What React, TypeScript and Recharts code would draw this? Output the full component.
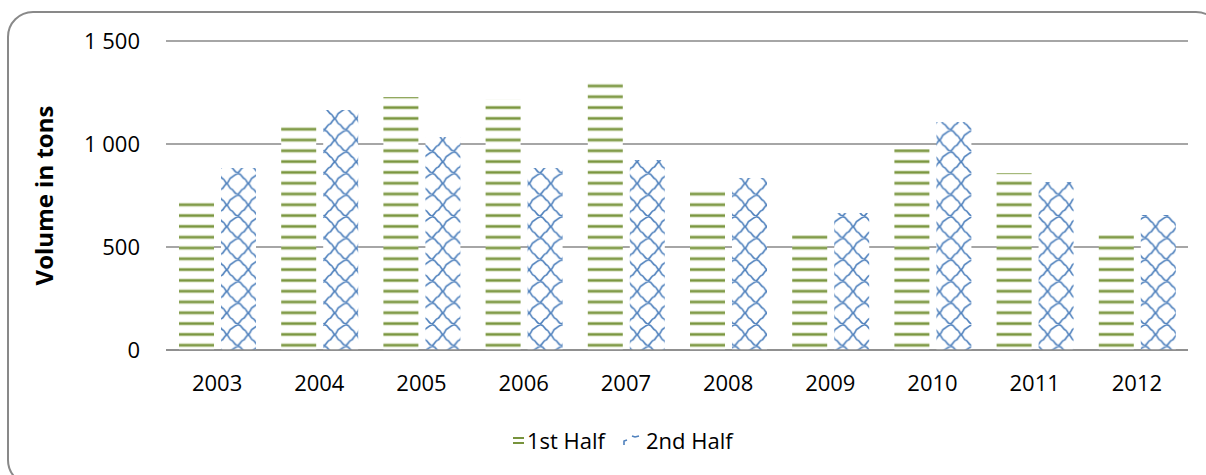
import { BarChart, Bar, XAxis, YAxis, CartesianGrid, Legend } from 'recharts'

const years = ['2003', '2004', '2005', '2006', '2007', '2008', '2009', '2010', '2011', '2012']
const firstHalf = [718, 1085, 1228, 1218, 1305, 772, 558, 976, 859, 558]
const secondHalf = [883, 1165, 1034, 883, 922, 835, 665, 1107, 816, 655]
const yTicks = [0, 500, 1000, 1500]
const seriesNames = ['1st Half', '2nd Half']

const data = years.map((year, i) => ({ year, first: firstHalf[i], second: secondHalf[i] }))

const font = '"Open Sans", sans-serif'
const fmt = (v: number) => String(v).replace(/\B(?=(\d{3})+(?!\d))/g, ' ')

function StripeIcon() {
  return (
    <svg width={11} height={12} style={{ marginRight: 3 }}>
      <rect x={0} y={3} width={11} height={2} fill="#77933C" />
      <rect x={0} y={8} width={11} height={2} fill="#77933C" />
    </svg>
  )
}

function WeaveIcon() {
  return (
    <svg width={17} height={12} style={{ marginRight: 6 }}>
      <path d="M1,11 L1,7 L4,6 M9,2 L12,3 L16,2" stroke="#4F81BD" strokeWidth={1.6} fill="none" />
    </svg>
  )
}

function LegendContent() {
  return (
    <div style={{ display: 'flex', alignItems: 'center', paddingLeft: 513, fontFamily: font, fontSize: 22, color: '#000' }}>
      <StripeIcon />
      <span style={{ display: 'inline-block', width: 96 }}>{seriesNames[0]}</span>
      <WeaveIcon />
      <span>{seriesNames[1]}</span>
    </div>
  )
}

export default function App() {
  return (
    <div style={{ position: 'absolute', left: 0, top: 0, width: 1206, height: 475, overflow: 'hidden', background: '#fff' }}>
      <div style={{ position: 'absolute', left: 7, top: 11, width: 1215, height: 475, boxSizing: 'border-box', border: '2px solid #898989', borderRadius: 26 }} />
      <BarChart width={1206} height={475} data={data} margin={{ top: 41, right: 18, bottom: 95, left: 0 }} barSize={35} barGap={7}>
        <defs>
          <pattern id="stripes" patternUnits="userSpaceOnUse" width={12} height={10.8} y={5}>
            <rect width={12} height={10.8} fill="#fff" />
            <rect y={3.6} width={12} height={3.6} fill="#c3d3a3" />
            <rect y={4.4} width={12} height={2} fill="#77933C" />
          </pattern>
          <pattern id="weave" patternUnits="userSpaceOnUse" width={21.6} height={21.6}>
            <rect width={21.6} height={21.6} fill="#fff" />
            <path d="M0,1 C4,0 4,5 7,6 C9,7 9,10 10.8,10.8 C13,12 13,15 15,16 C18,17 18,21 21.6,21.6" stroke="#4F81BD" strokeWidth={1.6} fill="none" />
            <path d="M21.6,1 C18,2 17,4 15,5 C13,6 13,9 10.8,10.8 C8,12 8,15 6,16 C3,17 3,20 0,21.6" stroke="#4F81BD" strokeWidth={1.6} fill="none" />
          </pattern>
        </defs>
        <CartesianGrid vertical={false} stroke="#898989" strokeWidth={1.5} />
        <XAxis
          dataKey="year"
          tickLine={false}
          axisLine={{ stroke: '#898989', strokeWidth: 1.5 }}
          tickMargin={19}
          tick={{ fill: '#000', fontSize: 22, fontFamily: font }}
        />
        <YAxis
          width={166}
          domain={[0, 1500]}
          ticks={yTicks}
          tickFormatter={fmt}
          axisLine={false}
          tickLine={false}
          tickMargin={20}
          tick={{ fill: '#000', fontSize: 22, fontFamily: font }}
          label={{ value: 'Volume in tons', angle: -90, position: 'center', dx: -39, fill: '#000', fontSize: 24, fontWeight: 'bold', fontFamily: font }}
        />
        <Legend
          layout="horizontal"
          verticalAlign="middle"
          align="center"
          wrapperStyle={{ top: 425, left: 0, width: 1206 }}
          content={<LegendContent />}
        />
        <Bar dataKey="first" name={seriesNames[0]} fill="url(#stripes)" isAnimationActive={false} />
        <Bar dataKey="second" name={seriesNames[1]} fill="url(#weave)" isAnimationActive={false} />
      </BarChart>
    </div>
  )
}
